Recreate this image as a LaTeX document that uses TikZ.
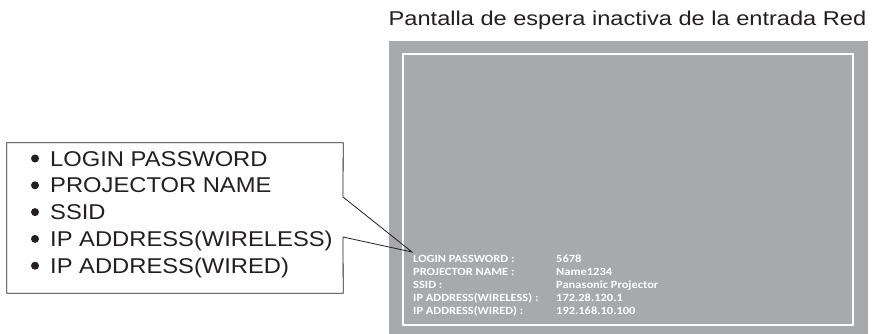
\documentclass[tikz,border=0pt]{standalone}
\usepackage{fontspec}
\setmainfont{Liberation Sans}
\newfontfamily\titlefont[FakeStretch=1.18]{Liberation Sans}
\newfontfamily\itemfont[FakeStretch=1.11]{Liberation Sans}
\newfontfamily\screenfont[FakeStretch=1.13]{Carlito}
\usepackage{xcolor}
\definecolor{screengray}{HTML}{A7A9AC}
\definecolor{inkgray}{HTML}{231F20}

\begin{document}
\begin{tikzpicture}[x=1pt, y=-1pt,
    item/.style={anchor=base west, inner sep=0pt, text=inkgray,
      font=\itemfont\fontsize{21.4}{21.4}\selectfont},
    dot/.style={circle, fill=inkgray, inner sep=0pt, minimum size=8pt},
    info/.style={anchor=base west, inner sep=0pt, text=white,
      font=\screenfont\bfseries\fontsize{11}{11}\selectfont}]

    \useasboundingbox (0,0) rectangle (872,334);

    % Title
    \node[anchor=base west, inner sep=0pt, text=inkgray,
      font=\titlefont\fontsize{20}{20}\selectfont] (title) at (388.5,26)
      {Pantalla de espera inactiva de la entrada Red};

    % Screen
    \node[anchor=north west, fill=screengray, inner sep=0pt,
      minimum width=479pt, minimum height=293pt] (screen) at (389,41) {};
    \node[draw=white, line width=1.6pt, inner sep=0pt,
      minimum width=450pt, minimum height=271pt] (frame) at (628,189.5) {};

    % Screen text
    \node[info] (lpass) at (413,262.7) {LOGIN PASSWORD :};
    \node[info] (lname) at (413,275.5) {PROJECTOR NAME :};
    \node[info] (lssid) at (413,288.5) {SSID :};
    \node[info] (lwifi) at (413,301.3) {IP ADDRESS(WIRELESS) :};
    \node[info] (lwire) at (413,314.1) {IP ADDRESS(WIRED) :};
    \node[info] (vpass) at (556,262.7) {5678};
    \node[info] (vname) at (556,275.5) {Name1234};
    \node[info] (vssid) at (556,288.5) {Panasonic Projector};
    \node[info] (vwifi) at (556,301.3) {172.28.120.1};
    \node[info] (vwire) at (556,314.1) {192.168.10.100};

    % Callout box
    \node[inner sep=0pt, minimum width=336pt, minimum height=150pt] (list) at (175,218) {};
    \coordinate (tip) at (412,252);
    \coordinate (notchtop) at (343,197);
    \coordinate (notchbot) at (343,237);
    \draw[inkgray, line width=0.8pt, line join=miter]
      (notchtop) -- (list.north east) -- (list.north west) -- (list.south west)
      -- (list.south east) -- (notchbot) -- (tip) -- cycle;

    % Items
    \node[item] (ipass) at (50,166) {LOGIN PASSWORD};
    \node[item] (iname) at (50,192.8) {PROJECTOR NAME};
    \node[item] (issid) at (50,219.6) {SSID};
    \node[item] (iwifi) at (50,246.4) {IP ADDRESS(WIRELESS)};
    \node[item] (iwire) at (50,273.2) {IP ADDRESS(WIRED)};
    \node[dot] (dpass) at (35,158.5) {};
    \node[dot] (dname) at (35,185.3) {};
    \node[dot] (dssid) at (35,212.1) {};
    \node[dot] (dwifi) at (35,238.9) {};
    \node[dot] (dwire) at (35,265.7) {};

\end{tikzpicture}
\end{document}
